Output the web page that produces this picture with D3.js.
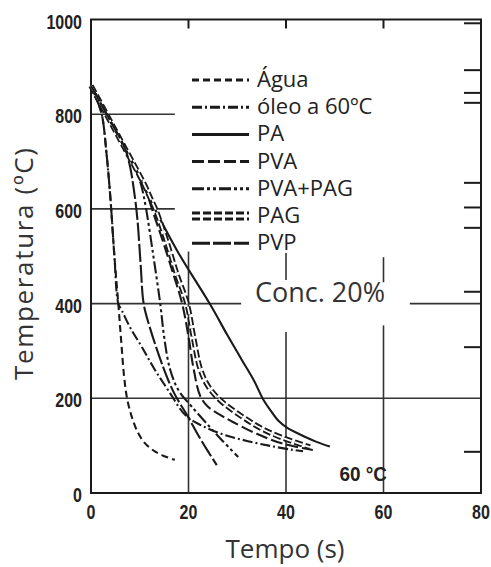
<!DOCTYPE html>
<html>
<head>
<meta charset="utf-8">
<script src="https://cdn.jsdelivr.net/npm/d3@7"></script>
<style>
  html, body { margin: 0; background: #fff; }
  svg { display: block; }
</style>
</head>
<body>
<div id="chart"></div>
<script>
// ------------------------------------------------------------------ DATA  (tempo em s, temperatura em ºC)
const xTicks = [0, 20, 40, 60, 80];
const yTicks = [0, 200, 400, 600, 800, 1000];

const seriesNames = ['Água', 'óleo a 60ºC', 'PA', 'PVA', 'PVA+PAG', 'PAG', 'PVP'];

const agua   = [[0,860],[1,835],[2.2,800],[3.2,715],[4,620],[4.8,500],[5.6,400],[6.2,320],[6.8,245],[7.4,200],[8.3,163],[9.6,128],[11,106],[12.5,92],[14.5,80],[17.2,70]];
const oleo   = [[0,860],[1,835],[2.2,800],[3.2,715],[4,620],[4.8,500],[5.6,400],[6.3,386],[8,350],[10.4,309],[13,262],[15.9,216],[19.3,165],[22.4,144],[27,124],[32,110],[37,99],[41.4,91],[43.5,88]];
const pa     = [[0,860],[6.6,735],[13.1,600],[18,506],[24.4,399],[28,333],[31,280],[33.5,236],[35.3,198],[37,172],[38.5,152],[40.2,138],[43,123],[46,109],[49,98]];
const pva    = [[0,860],[7,727],[10,668],[11.5,632],[12.5,600],[14.8,530],[16.8,465],[18.7,400],[20,330],[21,265],[22.4,205],[24,182],[26.5,165],[29.1,150],[34,125],[39.4,104],[45.5,91]];
const pvaPag = [[0,860],[7,727],[9,688],[10.3,650],[11.3,600],[12.8,500],[14.2,400],[15,330],[16.2,262],[18,216],[20.7,182],[24.4,139],[27,110],[30.2,76]];
const pag    = [[0,860],[7,727],[11,650],[12.3,620],[13.2,600],[15.5,532],[17.6,462],[19.7,400],[21,330],[22.4,262],[24,226],[26.5,196],[31.2,160],[35,136],[39.4,116],[44.9,97]];
const pvp    = [[0,860],[4,785],[7,727],[8,690],[8.8,640],[9.5,580],[10.2,480],[10.8,400],[12,352],[14.8,266],[17,212],[19.9,161],[22,122],[24,88],[25.8,59]];

const seriesData = [agua, oleo, pa, pva, pvaPag, pag, pvp];

// tick marks on the top and right border
const topTicks   = [20, 40, 60];
const rightTicks = [992, 893, 845, 824, 655, 603, 560, 425, 308, 87];

// ------------------------------------------------------------------ LAYOUT
const width = 491, height = 567;
const x = d3.scaleLinear().domain([0, 80]).range([91, 481]);
const y = d3.scaleLinear().domain([0, 1000]).range([493, 19.5]);

// grid segments, in data units (the legend and the "Conc." note break them)
const gridH = [[800, 0, 17.2], [600, 0, 17.2], [400, 0, 30.8], [400, 65.4, 80], [200, 0, 80]];
const gridV = [[20, 0, 510], [40, 0, 340], [40, 450, 507], [60, 0, 354], [60, 445, 498]];

const styles = [
  { dash: '7,4' },
  { dash: '10,3,2,3' },
  { dash: null },
  { dash: '12,4' },
  { dash: '12,3,3,3,3,3' },
  { dash: '8,3', double: true },
  { dash: '18,3' }
];

const svg = d3.select('#chart').append('svg')
  .attr('width', width)
  .attr('height', height)
  .style('background', '#fff');

const ink = '#1a1a1a';

// ------------------------------------------------------------------ GRID
svg.append('g')
  .selectAll('line')
  .data(gridH)
  .join('line')
  .attr('x1', d => x(d[1])).attr('x2', d => x(d[2]))
  .attr('y1', d => y(d[0])).attr('y2', d => y(d[0]))
  .attr('stroke', '#333').attr('stroke-width', 1.6);

svg.append('g')
  .selectAll('line')
  .data(gridV)
  .join('line')
  .attr('x1', d => x(d[0])).attr('x2', d => x(d[0]))
  .attr('y1', d => y(d[1])).attr('y2', d => y(d[2]))
  .attr('stroke', '#333').attr('stroke-width', 1.6);

// ------------------------------------------------------------------ FRAME + TICKS
svg.append('rect')
  .attr('x', x(0)).attr('y', y(1000))
  .attr('width', x(80) - x(0)).attr('height', y(0) - y(1000))
  .attr('fill', 'none').attr('stroke', ink).attr('stroke-width', 2);

svg.append('g')
  .selectAll('line')
  .data(topTicks)
  .join('line')
  .attr('x1', d => x(d)).attr('x2', d => x(d))
  .attr('y1', y(1000)).attr('y2', y(1000) + 9)
  .attr('stroke', ink).attr('stroke-width', 2);

svg.append('g')
  .selectAll('line')
  .data(rightTicks)
  .join('line')
  .attr('x1', x(80) - 17).attr('x2', x(80))
  .attr('y1', d => y(d)).attr('y2', d => y(d))
  .attr('stroke', ink).attr('stroke-width', 2);

// bold, narrow digits (squeezed horizontally)
const tickFont = "'Liberation Sans', Arial, sans-serif";
const squeeze = 0.8;

svg.append('g')
  .selectAll('text')
  .data(xTicks)
  .join('text')
  .attr('transform', d => `translate(${x(d)},${y(0) + 26}) scale(${squeeze},1)`)
  .attr('text-anchor', 'middle')
  .attr('font-family', tickFont)
  .attr('font-weight', 'bold')
  .attr('font-size', 20)
  .attr('fill', '#222')
  .text(d => d);

svg.append('g')
  .selectAll('text')
  .data(yTicks)
  .join('text')
  .attr('transform', d => `translate(${x(0) - 9},${y(d) + 9}) scale(${squeeze},1)`)
  .attr('text-anchor', 'end')
  .attr('font-family', tickFont)
  .attr('font-weight', 'bold')
  .attr('font-size', 20)
  .attr('fill', '#222')
  .text(d => d);

// ------------------------------------------------------------------ CURVES
const line = d3.line()
  .x(d => x(d[0]))
  .y(d => y(d[1]))
  .curve(d3.curveCatmullRom.alpha(0.5));

const curves = svg.append('g').attr('fill', 'none');

seriesData.forEach((data, i) => {
  const st = styles[i];
  curves.append('path')
    .attr('d', line(data))
    .attr('stroke', ink)
    .attr('stroke-width', st.double ? 5.5 : 2.1)
    .attr('stroke-dasharray', st.dash);
  if (st.double) {
    curves.append('path')
      .attr('d', line(data))
      .attr('stroke', '#fff')
      .attr('stroke-width', 1.8)
      .attr('stroke-dasharray', st.dash);
  }
});

// ------------------------------------------------------------------ LEGEND
const legend = svg.append('g');
const legY = i => 80 + i * 27.2;

seriesNames.forEach((name, i) => {
  const st = styles[i];
  legend.append('line')
    .attr('x1', 192).attr('x2', 249)
    .attr('y1', legY(i)).attr('y2', legY(i))
    .attr('stroke', ink)
    .attr('stroke-width', st.double ? 9 : 3)
    .attr('stroke-dasharray', st.dash);
  if (st.double) {
    legend.append('line')
      .attr('x1', 192).attr('x2', 249)
      .attr('y1', legY(i)).attr('y2', legY(i))
      .attr('stroke', '#fff')
      .attr('stroke-width', 3)
      .attr('stroke-dasharray', st.dash);
  }
  legend.append('text')
    .attr('x', 257)
    .attr('y', legY(i) + 7)
    .attr('font-family', "'Open Sans', sans-serif")
    .attr('font-size', 22)
    .attr('fill', '#222')
    .text(name);
});

// ------------------------------------------------------------------ NOTES + TITLES
svg.append('text')
  .attr('x', 255).attr('y', 302)
  .attr('font-family', "'Open Sans', sans-serif")
  .attr('font-size', 27)
  .attr('fill', '#333')
  .text('Conc. 20%');

svg.append('text')
  .attr('transform', 'translate(387,481) scale(0.9,1)')
  .attr('text-anchor', 'end')
  .attr('font-family', tickFont)
  .attr('font-weight', 'bold')
  .attr('font-size', 21)
  .attr('fill', '#222')
  .text('60 °C');

svg.append('text')
  .attr('x', 285).attr('y', 558)
  .attr('text-anchor', 'middle')
  .attr('font-family', "'Open Sans', sans-serif")
  .attr('font-size', 26)
  .attr('fill', '#333')
  .text('Tempo (s)');

svg.append('text')
  .attr('transform', 'translate(33,264) rotate(-90)')
  .attr('text-anchor', 'middle')
  .attr('font-family', "'Open Sans', sans-serif")
  .attr('font-size', 26)
  .attr('textLength', 232)
  .attr('lengthAdjust', 'spacing')
  .attr('fill', '#333')
  .text('Temperatura (ºC)');
</script>
</body>
</html>
